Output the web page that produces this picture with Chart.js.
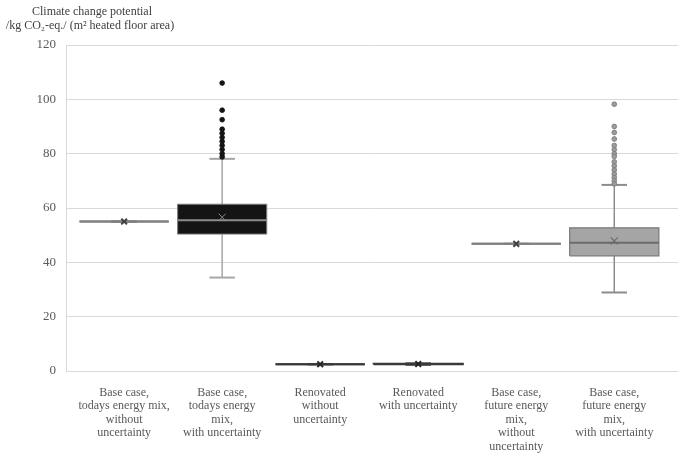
<!DOCTYPE html>
<html><head><meta charset="utf-8">
<script src="https://cdn.jsdelivr.net/npm/chart.js@4.4.1/dist/chart.umd.min.js"></script>
<style>html,body{margin:0;padding:0;background:#fff}#wrap{width:685px;height:458px;position:relative}</style>
</head><body><div id="wrap"><canvas id="c"></canvas></div>
<script>
// ---- data ----
const categories = [
  ["Base case,", "todays energy mix,", "without", "uncertainty"],
  ["Base case,", "todays energy", "mix,", "with uncertainty"],
  ["Renovated", "without", "uncertainty"],
  ["Renovated", "with uncertainty"],
  ["Base case,", "future energy", "mix,", "without", "uncertainty"],
  ["Base case,", "future energy", "mix,", "with uncertainty"]
];
const whiskerLow  = [55.0, 34.4, 2.5, 2.30, 46.8, 28.9];
const quartile1   = [55.0, 50.4, 2.5, 2.45, 46.8, 42.4];
const medians     = [55.0, 55.5, 2.5, 2.55, 46.8, 47.2];
const quartile3   = [55.0, 61.4, 2.5, 2.65, 46.8, 52.7];
const whiskerHigh = [55.0, 78.1, 2.5, 2.80, 46.8, 68.5];
const means       = [55.0, 56.6, 2.5, 2.55, 46.8, 47.9];
const outliers2 = [106, 96, 92.5, 89, 87.5, 86, 84.5, 83, 81.5, 80, 78.8];
const outliers6 = [98.2, 90, 87.8, 85.4, 83, 81.5, 80, 79, 77, 75.5, 74, 72.5, 71.2, 70, 68.9];
const outliers = [[], outliers2, [], [], [], outliers6];
const yTicks = [0, 20, 40, 60, 80, 100, 120];
const titleLines = ["Climate change potential", "/kg CO\u2082-eq./ (m\u00b2 heated floor area)"];

// ---- styles ----
const BOX_HALF = 0.455, CAP_HALF = 0.13;
const boxFill     = ['#7f7f7f', '#141414', '#3a3a3a', '#3a3a3a', '#808080', '#a5a5a5'];
const boxBorder   = ['#7f7f7f', '#808080', '#3a3a3a', '#3a3a3a', '#808080', '#7a7a7a'];
const boxBW       = [2, 1, 2, 2, 2, 1.2];
const medianColor = ['#7f7f7f', '#8c8c8c', '#3a3a3a', '#3a3a3a', '#808080', '#6b6b6b'];
const whiskColor  = ['#7f7f7f', '#a6a6a6', '#3a3a3a', '#3a3a3a', '#808080', '#8c8c8c'];
const meanColor   = ['#404040', '#8c8c8c', '#262626', '#262626', '#404040', '#6b6b6b'];
const meanRadius  = [4, 5, 4, 4, 4, 5];
const meanBW      = [2, 1, 2, 2, 2, 1.2];
const outFill     = ['#000', '#141414', '#000', '#000', '#000', '#9a9a9a'];
const outBorder   = ['#000', '#141414', '#000', '#000', '#000', '#7a7a7a'];

const datasets = [];
const seg = (pts, color, width, order) => ({
  data: pts, showLine: true, borderColor: color, borderWidth: width,
  pointRadius: 0, fill: false, tension: 0, order
});
categories.forEach((_, i) => {
  // whiskers
  datasets.push(seg([{x: i, y: whiskerLow[i]}, {x: i, y: quartile1[i]}], whiskColor[i], 1.5, 4));
  datasets.push(seg([{x: i, y: quartile3[i]}, {x: i, y: whiskerHigh[i]}], whiskColor[i], 1.5, 4));
  datasets.push(seg([{x: i - CAP_HALF, y: whiskerLow[i]}, {x: i + CAP_HALF, y: whiskerLow[i]}], whiskColor[i], 2, 4));
  datasets.push(seg([{x: i - CAP_HALF, y: whiskerHigh[i]}, {x: i + CAP_HALF, y: whiskerHigh[i]}], whiskColor[i], 2, 4));
  // box
  datasets.push({
    data: [
      {x: i - BOX_HALF, y: quartile1[i]}, {x: i + BOX_HALF, y: quartile1[i]},
      {x: i + BOX_HALF, y: quartile3[i]}, {x: i - BOX_HALF, y: quartile3[i]},
      {x: i - BOX_HALF, y: quartile1[i]}
    ],
    showLine: true, fill: 'shape', backgroundColor: boxFill[i], borderColor: boxBorder[i],
    borderWidth: boxBW[i], pointRadius: 0, tension: 0, order: 3
  });
  // median
  datasets.push(seg([{x: i - BOX_HALF, y: medians[i]}, {x: i + BOX_HALF, y: medians[i]}], medianColor[i], 2, 2));
  // mean
  datasets.push({
    data: [{x: i, y: means[i]}], pointStyle: 'crossRot', pointRadius: meanRadius[i],
    borderColor: meanColor[i], pointBorderWidth: meanBW[i], backgroundColor: meanColor[i], order: 1
  });
  // outliers
  if (outliers[i].length) {
    datasets.push({
      data: outliers[i].map(v => ({x: i, y: v})), pointStyle: 'circle', pointRadius: 2.4,
      backgroundColor: outFill[i], borderColor: outBorder[i], pointBorderWidth: 0.8, order: 0
    });
  }
});

const titlePlugin = {
  id: 'ttl',
  afterDraw(chart) {
    const ctx = chart.ctx;
    ctx.save();
    ctx.font = '12px "Liberation Serif"';
    ctx.fillStyle = '#404040';
    ctx.textAlign = 'center';
    ctx.textBaseline = 'middle';
    ctx.fillText(titleLines[0], 92, 12);
    ctx.fillText(titleLines[1], 90, 26);
    ctx.restore();
  }
};

new Chart(document.getElementById('c'), {
  type: 'scatter',
  data: { datasets },
  options: {
    responsive: true, maintainAspectRatio: false, animation: false,
    layout: { padding: { top: 45, right: 7, left: 0, bottom: 0 } },
    plugins: { legend: { display: false }, tooltip: { enabled: false } },
    scales: {
      x: {
        type: 'linear', min: -0.593, max: 5.65,
        afterBuildTicks: s => { s.ticks = categories.map((_, i) => ({ value: i })); },
        afterFit: s => { s.height = 87; },
        grid: { display: false, drawTicks: false },
        border: { display: false },
        ticks: {
          autoSkip: false, maxRotation: 0, padding: 15, color: '#595959',
          font: { family: 'Liberation Serif', size: 12, lineHeight: 1.12 },
          callback: v => categories[v]
        }
      },
      y: {
        min: 0, max: 120,
        afterBuildTicks: s => { s.ticks = yTicks.map(v => ({ value: v })); },
        afterFit: s => { s.width = 66; },
        grid: { color: '#d9d9d9', lineWidth: 1, drawTicks: false },
        border: { color: '#d9d9d9' },
        ticks: {
          padding: 10, color: '#595959',
          font: { family: 'Liberation Serif', size: 13 }
        }
      }
    }
  },
  plugins: [titlePlugin]
});
</script>
</body></html>
